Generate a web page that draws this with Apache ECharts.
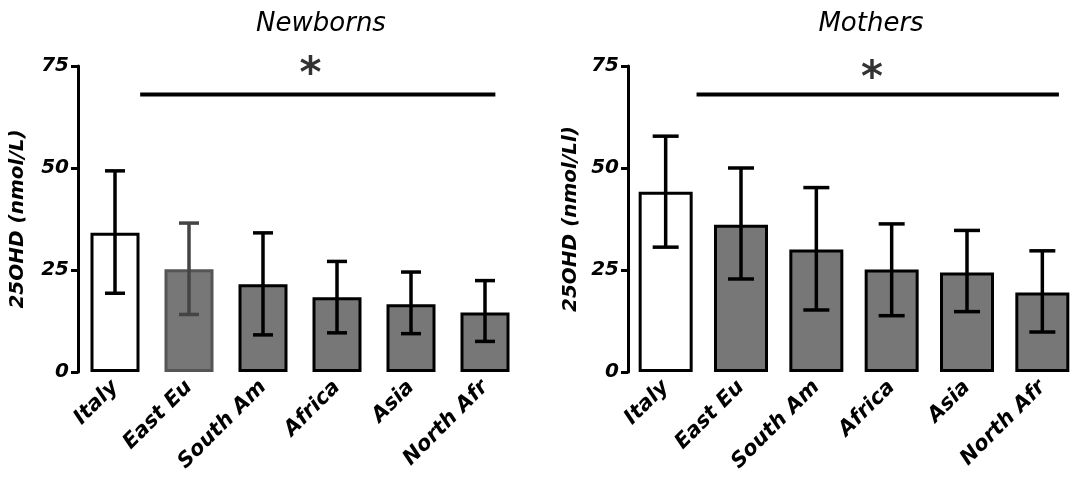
<!DOCTYPE html>
<html>
<head>
<meta charset="utf-8">
<script src="https://cdn.jsdelivr.net/npm/echarts@6/dist/echarts.min.js"></script>
<style>html,body{margin:0;padding:0;background:#fff}#c{width:1070px;height:484px}</style>
</head>
<body>
<div id="c"></div>
<script>
const categories = ['Italy', 'East Eu', 'South Am', 'Africa', 'Asia', 'North Afr'];
const yTicks = [0, 25, 50, 75];

const newbornsMean = [34.1, 25.2, 21.5, 18.3, 16.6, 14.6];
const newbornsLow  = [19.3, 14.1, 9.1, 9.6, 9.4, 7.5];
const newbornsHigh = [49.3, 36.5, 34.1, 27.1, 24.5, 22.4];

const mothersMean = [44.2, 36.1, 30.0, 25.1, 24.4, 19.5];
const mothersLow  = [30.6, 22.8, 15.2, 13.8, 14.8, 9.8];
const mothersHigh = [57.8, 50.0, 45.2, 36.3, 34.7, 29.7];

// significance bar: [start, end] on category scale (index units, 0 = left edge of first band), level
const newbornsSig = { from: 0.84, to: 5.64, level: 68, starX: 3.14, starY: 74 };
const mothersSig  = { from: 0.91, to: 5.72, level: 68, starX: 3.24, starY: 73 };

const FONT = '"Comic Sans MS", "DejaVu Sans", sans-serif';
const GRAY = '#777777';

function barItems(means, special) {
  return means.map((v, i) => {
    let it = { value: v, itemStyle: { color: i === 0 ? '#ffffff' : GRAY, borderColor: '#000', borderWidth: 3 } };
    if (special && i === 1) it.itemStyle.borderColor = '#555555';
    return it;
  });
}

function errItems(low, high) {
  return low.map((l, i) => [i, l, high[i]]);
}

function errSeries(gi, low, high, cap, special) {
  return {
    type: 'custom', xAxisIndex: gi * 2, yAxisIndex: gi, z: 5,
    data: errItems(low, high),
    renderItem: function (params, api) {
      const x = api.value(0);
      const lo = api.coord([x, api.value(1)]);
      const hi = api.coord([x, api.value(2)]);
      const col = (special && x === 1) ? '#444444' : '#000000';
      const st = { stroke: col, lineWidth: 3.5 };
      return { type: 'group', children: [
        { type: 'line', shape: { x1: lo[0], y1: lo[1], x2: hi[0], y2: hi[1] }, style: st },
        { type: 'line', shape: { x1: lo[0] - cap, y1: lo[1], x2: lo[0] + cap, y2: lo[1] }, style: st },
        { type: 'line', shape: { x1: hi[0] - cap, y1: hi[1], x2: hi[0] + cap, y2: hi[1] }, style: st }
      ]};
    }
  };
}

const grids = [
  { left: 78, top: 66, width: 444, bottom: 112, outerBoundsMode: 'none', containLabel: false },
  { left: 628, top: 66, width: 452, bottom: 112, outerBoundsMode: 'none', containLabel: false }
];

function xAxes(gi) {
  return [
    { type: 'category', gridIndex: gi, data: categories,
      axisLine: { show: false }, axisTick: { show: false },
      axisLabel: { rotate: 45, margin: 12, fontFamily: FONT, fontSize: 21, fontWeight: 'bold', fontStyle: 'italic', color: '#000' } },
    { type: 'value', gridIndex: gi, min: 0, max: 6, show: false }
  ];
}

function yAxis(gi, name, gap) {
  return { type: 'value', gridIndex: gi, min: 0, max: 75, interval: 25,
    name: name, nameLocation: 'middle', nameGap: gap, nameRotate: 90,
    nameTextStyle: { fontFamily: FONT, fontSize: 20, fontWeight: 'bold', fontStyle: 'italic', color: '#000' },
    axisLine: { show: true, lineStyle: { color: '#000', width: 3 } },
    axisTick: { show: true, length: 7, lineStyle: { color: '#000', width: 3 } },
    axisLabel: { margin: 9, fontFamily: FONT, fontSize: 20, fontWeight: 'bold', fontStyle: 'italic', color: '#000',
      formatter: v => yTicks.includes(v) ? String(v) : '' },
    splitLine: { show: false } };
}

function sigSeries(gi, s) {
  return [
    { type: 'line', xAxisIndex: gi * 2 + 1, yAxisIndex: gi, data: [[s.from, s.level], [s.to, s.level]],
      symbol: 'none', lineStyle: { color: '#000', width: 4 }, silent: true, z: 6 },
    { type: 'scatter', xAxisIndex: gi * 2 + 1, yAxisIndex: gi, data: [[s.starX, s.starY]],
      symbolSize: 0, silent: true,
      label: { show: true, position: 'inside', formatter: '*', fontFamily: 'DejaVu Sans', fontWeight: 'bold', fontSize: 42, color: '#000', offset: [0, 6] } }
  ];
}

const option = {
  animation: false,
  backgroundColor: '#fff',
  title: [
    { text: 'Newborns', left: 316, top: 6, textAlign: 'center',
      textStyle: { fontFamily: FONT, fontSize: 26, fontWeight: 'normal', fontStyle: 'italic', color: '#000' } },
    { text: 'Mothers', left: 866, top: 6, textAlign: 'center',
      textStyle: { fontFamily: FONT, fontSize: 26, fontWeight: 'normal', fontStyle: 'italic', color: '#000' } }
  ],
  grid: grids,
  xAxis: [...xAxes(0), ...xAxes(1)],
  yAxis: [yAxis(0, '25OHD (nmol/L)', 50), yAxis(1, '25OHD (nmol/Ll)', 47)],
  series: [
    { type: 'bar', xAxisIndex: 0, yAxisIndex: 0, barWidth: 49, data: barItems(newbornsMean, true) },
    errSeries(0, newbornsLow, newbornsHigh, 10, true),
    ...sigSeries(0, newbornsSig),
    { type: 'bar', xAxisIndex: 2, yAxisIndex: 1, barWidth: 54, data: barItems(mothersMean, false) },
    errSeries(1, mothersLow, mothersHigh, 13, false),
    ...sigSeries(1, mothersSig)
  ]
};

echarts.init(document.getElementById('c')).setOption(option);
</script>
</body>
</html>
